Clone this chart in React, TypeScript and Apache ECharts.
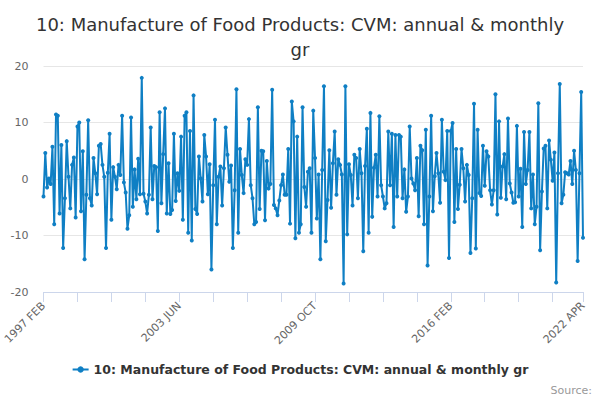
import React, { useEffect, useRef } from "react";
import * as echarts from "echarts";

const TITLE = "10: Manufacture of Food Products: CVM: annual & monthly\ngr";
const SERIES_NAME = "10: Manufacture of Food Products: CVM: annual & monthly gr";
const MONTH_NAMES = ["JAN", "FEB", "MAR", "APR", "MAY", "JUN", "JUL", "AUG", "SEP", "OCT", "NOV", "DEC"];
const START_YEAR = 1997;
const START_MONTH_INDEX = 1; // FEB
const Y_TICKS = [-20, -10, 0, 10, 20];

// 1997 FEB .. 1999 MAY
const values1 = [-3.1, 4.6, -1.5, 0.1, -0.9, 5.7, -8, 11.4, 11.2, -6.1, 6, -12.2, -3.4, 6.7, 0.4, -5.2, 2.5, 3.8, -6.8, 9.3, 10, -5.7, 4.9, -14.2, -2.8, 10.4, -3.4, -4.7];
// 1999 JUN .. 2001 OCT
const values2 = [3.7, 1, -2.7, 5.9, 6.2, 2.5, 0.4, -12.2, 1.1, 8, -7.2, 2.1, 0.4, -1.8, 2.5, 0.7, 11.2, -0.6, -2.4, -8.8, -6.4, 10.9, -4.9, 1.7, -3.6, 3.6, -2.7, 17.9, -2.6];
// 2001 NOV .. 2004 MAY
const values3 = [-4, -6.1, -2.8, 9.1, -3.6, 2.3, 2.1, -9.2, 11.8, -4.3, 4.4, 12.5, -6.1, 2.8, -6.2, -5.5, 8, -3.9, 1, -2.1, 7.5, -7.2, 11.2, 11.8, -9.5, 8.5, -10.9, 14.8, -5.3, -6.2, 4];
// 2004 JUN .. 2006 NOV
const values4 = [0.1, -4, 7.8, 4, -2.7, 2.6, -16, -1.1, 10.5, -8, 0.4, 2.2, -4.7, 1.9, 9.1, 4.3, -0.5, 2.4, -12.2, -2, 15.9, -9.5, 5.3, 0.7, -2.5, 3.5, 2.5, 10.6, -1.1, -3.4];
// 2006 DEC .. 2009 APR
const values5 = [-8, -7.6, 12.7, -5.3, 5, 4.9, -7.3, 3.2, -1.7, -0.9, 15.8, -4.6, -5.2, -6.4, -3.8, -1.1, 0.8, -2.8, -2.8, 5.3, -7.9, 13.7, 10.2, -10.5, 7.5, -9.5, -8, 12.7, -1.4];
// 2009 MAY .. 2012 JAN
const values6 = [-4.9, 1.3, 1.9, -9.5, 12.1, 3.7, -7, 0.8, -14.2, 1.6, 16.4, -11, -3.7, 5.1, -5.1, 2.8, 8.4, -2.8, 3.5, 2.5, 0.8, -18.5, 16.4, -9.8, 2.6, 0.7, -4.7, 4.3, 3.7, -3.4, 5.3, 1, -12.8];
// 2012 FEB .. 2014 JUL
const values7 = [2.3, 8.9, -9.5, 11.7, -6.7, 2, 4.3, -3.1, 11.1, -1.1, -3.1, -5.2, -4.3, 8.4, -1.1, 8, -8.5, 7.8, -3.1, 7.8, 7.5, -3.4, 1.7, -5.8, -3.1, 9.3, 0.1, -0.8, -2, 3.7];
// 2014 AUG .. 2017 JAN
const values8 = [-6.6, 5.9, 5.1, -8, 8.7, -15.3, -3.1, 11.2, -5.7, 0.5, 4.6, 1, -4.2, 10.5, 1.3, -0.2, 8.5, -14, 8.5, 9.9, -7.6, 5.3, -5.3, -1, 5.3, 1.9, -4, 2.5, 0.7, -13.1];
// 2017 FEB .. 2019 JUL
const values9 = [-3.4, 13.3, -12.3, 8.7, -2.5, -3, 5.9, -1.2, 4.9, 4, -2, -4.5, -2, 15, -6.3, 10.2, -3.3, 2.2, 4.4, -3.6, 10.7, -0.8, -2.4, -4.2, -4.1, 9.4, -3.1, 1.8, -8.5, 8.3];
// 2019 AUG .. 2022 APR
const values10 = [-0.9, 1.6, 8.3, -5.2, 0.8, -8, -4.9, 13.4, -12.6, -2.2, 5.4, 5.9, -5.2, 6.8, 3.4, -0.3, 4.7, -18.3, 1, 16.8, -4.3, -2.8, 1.2, 1, 0.8, 3.2, -0.9, 5, 1.6, -14.5, 1, 15.4, -10.4];

const values = [
  ...values1, ...values2, ...values3, ...values4, ...values5,
  ...values6, ...values7, ...values8, ...values9, ...values10,
];

const categories = values.map((_, i) => {
  const m = START_MONTH_INDEX + i;
  return `${START_YEAR + Math.floor(m / 12)} ${MONTH_NAMES[m % 12]}`;
});

const TICK_STEP = 19;
const LABEL_STEP = 76;
const LAST = categories.length - 1;

export default function App() {
  const ref = useRef<HTMLDivElement>(null);

  useEffect(() => {
    if (!ref.current) return;
    const chart = echarts.init(ref.current, undefined, { renderer: "svg" });
    const font = "DejaVu Sans, Verdana, sans-serif";
    const axisColor = "#ccd6eb";
    chart.setOption({
      animation: false,
      backgroundColor: "#ffffff",
      title: {
        text: TITLE,
        left: "center",
        top: 7,
        textStyle: {
          fontSize: 18,
          fontWeight: "normal",
          color: "#333333",
          fontFamily: font,
          lineHeight: 25,
        },
      },
      grid: {
        left: 43.5,
        right: 17,
        top: 66,
        bottom: 108,
        containLabel: false,
      },
      xAxis: [
        {
          type: "category",
          data: categories,
          boundaryGap: false,
          axisLine: { show: true, onZero: false, lineStyle: { color: axisColor, width: 1 } },
          axisTick: {
            show: true,
            length: 10,
            lineStyle: { color: axisColor, width: 1 },
            interval: TICK_STEP - 1,
          },
          axisLabel: {
            rotate: 45,
            margin: 12,
            color: "#666666",
            fontSize: 11,
            fontFamily: font,
            interval: (i: number) => i % LABEL_STEP === 0 || i === LAST,
          },
          splitLine: { show: false },
        },
        {
          type: "category",
          data: categories,
          boundaryGap: false,
          position: "bottom",
          axisLine: { show: false, onZero: false },
          axisTick: {
            show: true,
            length: 10,
            lineStyle: { color: axisColor, width: 1 },
            interval: (i: number) => i === LAST,
          },
          axisLabel: { show: false },
          splitLine: { show: false },
        },
      ],
      yAxis: {
        type: "value",
        min: Y_TICKS[0],
        max: Y_TICKS[Y_TICKS.length - 1],
        interval: 10,
        axisLine: { show: false },
        axisTick: { show: false },
        axisLabel: {
          color: "#666666",
          fontSize: 11,
          fontFamily: font,
          margin: 15,
        },
        splitLine: { show: true, lineStyle: { color: "#e6e6e6", width: 1 } },
      },
      legend: {
        bottom: 19,
        left: "center",
        itemWidth: 16,
        itemHeight: 8,
        textStyle: {
          fontSize: 12.5,
          fontWeight: "bold",
          color: "#333333",
          fontFamily: font,
        },
        data: [SERIES_NAME],
      },
      graphic: [
        {
          type: "text",
          right: 8,
          bottom: 4,
          style: {
            text: "Source:",
            fill: "#999999",
            fontSize: 11,
            fontFamily: font,
          },
        },
      ],
      series: [
        {
          name: SERIES_NAME,
          type: "line",
          data: values,
          color: "#0f7fc4",
          lineStyle: { width: 2, color: "#0f7fc4" },
          symbol: "circle",
          symbolSize: 4,
          showSymbol: true,
          showAllSymbol: true,
          itemStyle: { color: "#0f7fc4" },
        },
      ],
    });
    return () => chart.dispose();
  }, []);

  return (
    <div
      ref={ref}
      style={{ position: "absolute", left: 0, top: 0, width: 600, height: 400 }}
    />
  );
}
